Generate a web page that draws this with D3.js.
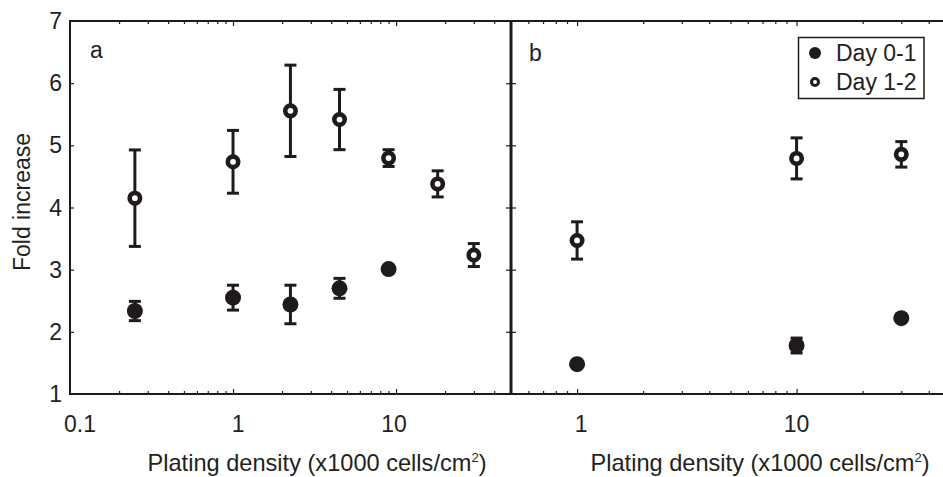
<!DOCTYPE html>
<html>
<head>
<meta charset="utf-8">
<script src="https://cdn.jsdelivr.net/npm/d3@7"></script>
<style>
  html, body { margin: 0; padding: 0; background: #fff; }
  svg { display: block; }
  text { font-family: "Liberation Sans", Arial, Helvetica, sans-serif; fill: #231f20; }
</style>
</head>
<body>
<svg id="chart" width="943" height="477"></svg>
<script>
// Panel a: plating density series (x1000 cells/cm2)
const densityA01 = [0.25, 1, 2.25, 4.5, 9];
const foldA01 = [2.335, 2.55, 2.44, 2.70, 3.01];
const errA01 = [0.155, 0.2, 0.31, 0.16, 0.03];

const densityA12 = [0.25, 1, 2.25, 4.5, 9, 18, 30];
const foldA12 = [4.15, 4.735, 5.555, 5.415, 4.795, 4.38, 3.235];
const errA12 = [0.776, 0.505, 0.735, 0.485, 0.135, 0.21, 0.185];

// Panel b
const densityB = [1, 10, 30];
const foldB01 = [1.48, 1.78, 2.22];
const errB01 = [0.03, 0.12, 0.03];
const foldB12 = [3.47, 4.79, 4.855];
const errB12 = [0.30, 0.33, 0.205];

const yTicks = [1, 2, 3, 4, 5, 6, 7];
const xLabelsA = [0.1, 1, 10];
const xLabelsB = [1, 10];
const seriesNames = ["Day 0-1", "Day 1-2"];

const ink = "#1e1b1a";
const svg = d3.select("#chart");

const y = d3.scaleLinear().domain([1, 7]).range([394, 21]);
const xA = d3.scaleLog().domain([0.1, 50]).range([70, 510]);
const xB = d3.scaleLog().domain([0.5, 50]).range([511, 950]);

function minorTicks(scale) {
  const [d0, d1] = scale.domain();
  const vals = [];
  for (let e = -2; e <= 2; e++) {
    for (let m = 1; m <= 9; m++) {
      const v = +(m * Math.pow(10, e)).toPrecision(6);
      if (v > d0 * 1.0001 && v < d1 * 0.9999) vals.push(v);
    }
  }
  return vals;
}

function drawXTicks(scale) {
  const vals = minorTicks(scale);
  const major = vals.filter(v => Math.abs(Math.log10(v) - Math.round(Math.log10(v))) < 1e-9);
  const minor = vals.filter(v => !major.includes(v));
  [[minor, 3], [major, 5]].forEach(([tv, len]) => {
    // bottom, pointing up into the plot
    svg.append("g").attr("transform", `translate(0,${y(1)})`)
      .call(d3.axisBottom(scale).tickValues(tv).tickSize(-len).tickFormat(""))
      .call(g => g.select(".domain").remove())
      .selectAll("line").attr("stroke", ink).attr("stroke-width", 1.2);
    // top, pointing down into the plot
    svg.append("g").attr("transform", `translate(0,${y(7)})`)
      .call(d3.axisTop(scale).tickValues(tv).tickSize(-len).tickFormat(""))
      .call(g => g.select(".domain").remove())
      .selectAll("line").attr("stroke", ink).attr("stroke-width", 1.2);
  });
}
drawXTicks(xA);
drawXTicks(xB);

// Y axis: ticks inward, labels to the left
svg.append("g").attr("transform", `translate(${xA.range()[0]},0)`)
  .call(d3.axisRight(y).tickValues(yTicks.slice(1, -1)).tickSize(4).tickFormat(""))
  .call(g => g.select(".domain").remove())
  .selectAll("line").attr("stroke", ink).attr("stroke-width", 1.2);

svg.append("g").selectAll("text").data(yTicks).join("text")
  .attr("x", 62).attr("y", d => y(d) + 8)
  .attr("text-anchor", "end").attr("font-size", 23)
  .text(d => d);

// Divider ticks (cross both sides)
svg.append("g").attr("transform", `translate(${xB.range()[0] - 5},0)`)
  .call(d3.axisRight(y).tickValues(yTicks.slice(1, -1)).tickSize(10).tickFormat(""))
  .call(g => g.select(".domain").remove())
  .selectAll("line").attr("stroke", ink).attr("stroke-width", 1.2);

// Frame lines
const frame = svg.append("g").attr("stroke", ink).attr("fill", "none");
frame.append("line").attr("x1", xA.range()[0]).attr("x2", 943)
  .attr("y1", y(7)).attr("y2", y(7)).attr("stroke-width", 2);
frame.append("line").attr("x1", xA.range()[0]).attr("x2", 943)
  .attr("y1", y(1)).attr("y2", y(1)).attr("stroke-width", 2);
frame.append("line").attr("x1", xA.range()[0]).attr("x2", xA.range()[0])
  .attr("y1", y(7) - 1).attr("y2", y(1) + 1).attr("stroke-width", 2);
frame.append("line").attr("x1", xB.range()[0]).attr("x2", xB.range()[0])
  .attr("y1", y(7) - 1).attr("y2", y(1) + 1).attr("stroke-width", 3);

// X tick labels
const labOffA = { 0.1: 10, 1: 5, 10: -2 };
svg.append("g").selectAll("text").data(xLabelsA).join("text")
  .attr("x", d => xA(d) + labOffA[d]).attr("y", 432)
  .attr("text-anchor", "middle").attr("font-size", 23)
  .text(d => d);
const labOffB = { 1: 4, 10: 0 };
svg.append("g").selectAll("text").data(xLabelsB).join("text")
  .attr("x", d => xB(d) + labOffB[d]).attr("y", 432)
  .attr("text-anchor", "middle").attr("font-size", 23)
  .text(d => d);

// Axis titles
function xTitle(cx) {
  const t = svg.append("text").attr("x", cx).attr("y", 471)
    .attr("text-anchor", "middle").attr("font-size", 23.6);
  t.append("tspan").text("Plating density (x1000 cells/cm");
  t.append("tspan").attr("font-size", 13).attr("dy", -9).text("2");
  t.append("tspan").attr("dy", 9).text(")");
}
xTitle(317);
xTitle(760);

svg.append("text")
  .attr("transform", "translate(30,202) rotate(-90)")
  .attr("text-anchor", "middle").attr("font-size", 23)
  .text("Fold increase");

// Panel letters
svg.append("text").attr("x", 90).attr("y", 58).attr("font-size", 23).text("a");
svg.append("text").attr("x", 529).attr("y", 61).attr("font-size", 23).text("b");

// Error bars and markers
function drawSeries(xs, ys, es, scale, filled) {
  const g = svg.append("g");
  const pts = xs.map((d, i) => ({ x: d, y: ys[i], e: es[i] }));
  const cap = 6;
  const eb = g.selectAll("g.eb").data(pts).join("g").attr("class", "eb")
    .attr("stroke", ink).attr("stroke-width", 3);
  eb.append("line")
    .attr("x1", d => scale(d.x)).attr("x2", d => scale(d.x))
    .attr("y1", d => y(d.y + d.e)).attr("y2", d => y(d.y - d.e));
  eb.append("line")
    .attr("x1", d => scale(d.x) - cap).attr("x2", d => scale(d.x) + cap)
    .attr("y1", d => y(d.y + d.e)).attr("y2", d => y(d.y + d.e));
  eb.append("line")
    .attr("x1", d => scale(d.x) - cap).attr("x2", d => scale(d.x) + cap)
    .attr("y1", d => y(d.y - d.e)).attr("y2", d => y(d.y - d.e));
  if (filled) {
    g.selectAll("circle").data(pts).join("circle")
      .attr("cx", d => scale(d.x)).attr("cy", d => y(d.y))
      .attr("r", 8).attr("fill", ink);
  } else {
    g.selectAll("circle").data(pts).join("circle")
      .attr("cx", d => scale(d.x)).attr("cy", d => y(d.y))
      .attr("r", 5.2).attr("fill", "#fff").attr("stroke", ink).attr("stroke-width", 4.6);
  }
}
drawSeries(densityA12, foldA12, errA12, xA, false);
drawSeries(densityA01, foldA01, errA01, xA, true);
drawSeries(densityB, foldB12, errB12, xB, false);
drawSeries(densityB, foldB01, errB01, xB, true);

// Legend
const lg = svg.append("g");
lg.append("rect").attr("x", 798.5).attr("y", 37.5).attr("width", 125.5).attr("height", 61)
  .attr("fill", "#fff").attr("stroke", ink).attr("stroke-width", 1.5);
lg.append("circle").attr("cx", 815).attr("cy", 53).attr("r", 6).attr("fill", ink);
lg.append("circle").attr("cx", 815).attr("cy", 82).attr("r", 3.5)
  .attr("fill", "#fff").attr("stroke", ink).attr("stroke-width", 3);
lg.selectAll("text.lt").data(seriesNames).join("text").attr("class", "lt")
  .attr("x", 836).attr("y", (d, i) => 61 + i * 29)
  .attr("font-size", 23).text(d => d);
</script>
</body>
</html>
